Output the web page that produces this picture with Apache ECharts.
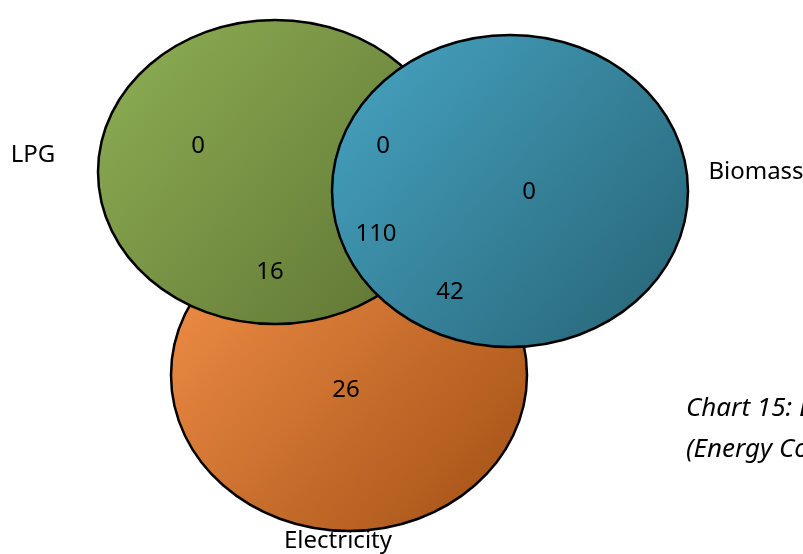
<!DOCTYPE html>
<html>
<head>
<meta charset="utf-8">
<title>Energy sources Venn</title>
<script src="https://cdn.jsdelivr.net/npm/echarts@6/dist/echarts.min.js"></script>
<style>
  html, body { margin: 0; padding: 0; background: #ffffff; }
  #chart { width: 803px; height: 554px; }
</style>
</head>
<body>
<div id="chart"></div>
<script>
// Sets and the household counts of each Venn region
const setNames = ['Electricity', 'LPG', 'Biomass'];
const regionNames = ['LPG only', 'LPG & Biomass', 'Biomass only', 'All three', 'LPG & Electricity', 'Biomass & Electricity', 'Electricity only'];
const regionValues = [0, 0, 0, 110, 16, 42, 26];
const captionLines = ['Chart 15: Energy Sources', '(Energy Consumption)'];

// Layout (pixel space of the hidden axes)
const ellipseLayout = [
  { cx: 349, cy: 375, rx: 178, ry: 156 }, // Electricity
  { cx: 275, cy: 172, rx: 177, ry: 152 }, // LPG
  { cx: 510, cy: 191, rx: 178, ry: 156 }  // Biomass
];
const setLabelPos = [[338, 541], [33, 155], [756, 172]];
const regionLabelPos = [[198, 146], [383, 146], [529, 192], [376, 234], [270, 272], [450, 292], [346, 390]];
const fills = [
  ['#f5924a', '#a14f14'],
  ['#8fb055', '#5c7131'],
  ['#47a5c3', '#266274']
];

const font = '"Noto Sans", "Open Sans", sans-serif';
const chart = echarts.init(document.getElementById('chart'), null, { renderer: 'canvas' });

const labelStyle = {
  show: true,
  position: 'inside',
  color: '#000000',
  fontFamily: font,
  fontSize: 24,
  textBorderWidth: 0,
  textShadowBlur: 0
};

chart.setOption({
  animation: false,
  backgroundColor: '#ffffff',
  grid: { left: 0, right: 0, top: 0, bottom: 0 },
  xAxis: { type: 'value', min: 0, max: 803, show: false },
  yAxis: { type: 'value', min: 0, max: 554, inverse: true, show: false },
  series: [
    {
      type: 'custom',
      name: 'sets',
      data: ellipseLayout.map((e, i) => [e.cx, e.cy, e.rx, e.ry, i]),
      renderItem: function (params, api) {
        const c = api.coord([api.value(0), api.value(1)]);
        const s = api.size([api.value(2), api.value(3)]);
        const i = api.value(4);
        return {
          type: 'ellipse',
          shape: { cx: c[0], cy: c[1], rx: s[0], ry: s[1] },
          style: {
            fill: new echarts.graphic.LinearGradient(0, 0, 1, 1, [
              { offset: 0, color: fills[i][0] },
              { offset: 1, color: fills[i][1] }
            ]),
            stroke: '#000000',
            lineWidth: 2.5
          }
        };
      },
      z: 1
    },
    {
      type: 'scatter',
      name: 'regions',
      symbolSize: 0,
      itemStyle: { color: 'transparent', opacity: 1 },
      data: regionValues.map((v, i) => ({ name: regionNames[i], value: [regionLabelPos[i][0], regionLabelPos[i][1], v] })),
      label: Object.assign({ formatter: p => String(p.value[2]) }, labelStyle),
      z: 3
    },
    {
      type: 'scatter',
      name: 'setLabels',
      symbolSize: 0,
      itemStyle: { color: 'transparent', opacity: 1 },
      data: setNames.map((n, i) => ({ name: n, value: setLabelPos[i] })),
      label: Object.assign({ formatter: p => p.name }, labelStyle),
      z: 3
    }
  ],
  graphic: [
    {
      type: 'text',
      left: 686,
      top: 388,
      style: {
        text: captionLines.join('\n'),
        font: 'italic 26px ' + font,
        lineHeight: 41,
        fill: '#000000'
      }
    }
  ]
});
</script>
</body>
</html>
